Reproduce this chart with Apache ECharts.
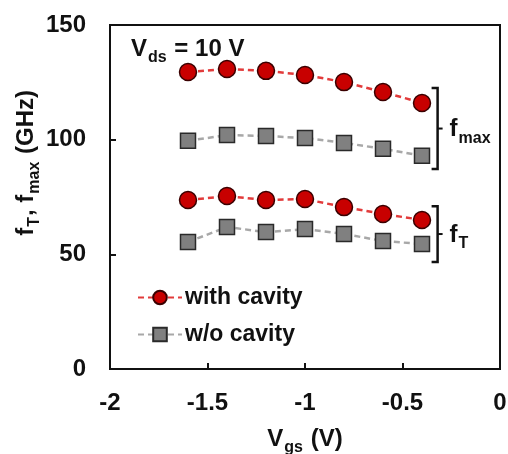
<!DOCTYPE html>
<html>
<head>
<meta charset="utf-8">
<script src="https://cdn.jsdelivr.net/npm/echarts@6/dist/echarts.min.js"></script>
<style>
  html, body { margin: 0; padding: 0; background: #fff; }
  #main { width: 508px; height: 454px; }
</style>
</head>
<body>
<div id="main"></div>
<script>
// gate voltage Vgs (V)
var vgs = [-1.6, -1.4, -1.2, -1.0, -0.8, -0.6, -0.4];
// fmax (GHz)
var fmaxCavity = [129.5, 130.8, 130, 128.2, 125.1, 120.8, 116];
var fmaxNoCavity = [99.5, 102, 101.6, 100.7, 98.6, 96, 93];
// fT (GHz)
var ftCavity = [73.7, 75.4, 73.7, 74.1, 70.6, 67.6, 65];
var ftNoCavity = [55.4, 61.9, 59.7, 61, 58.9, 55.8, 54.5];
// brackets on the right: [x, top, bottom, subscript]
var brackets = [
    [-0.32, 122.5, 87.2, 'max'],
    [-0.32, 71, 46.7, 'T']
];

function pairs(ys) {
    return vgs.map(function (x, i) { return [x, ys[i]]; });
}

var font = 'Liberation Sans, Arial, sans-serif';
var ink = '#111';

// rich styles for "main letter + subscript"
function richSub(size, subSize, drop, key) {
    var c = {};
    c[key] = ink;
    return {
        v: Object.assign({ fontSize: size, fontWeight: 'bold', fontFamily: font, lineHeight: size + 2, verticalAlign: 'bottom' }, c),
        s: Object.assign({ fontSize: subSize, fontWeight: 'bold', fontFamily: font, lineHeight: size + 2, verticalAlign: 'bottom', padding: [0, 1, -drop, 1] }, c)
    };
}

var redStyle = {
    symbol: 'circle',
    symbolSize: 17,
    itemStyle: { color: '#c80000', borderColor: '#3a0000', borderWidth: 1.5 },
    lineStyle: { color: '#e23b3b', width: 2.5, type: [6, 4] }
};
var grayStyle = {
    symbol: 'rect',
    symbolSize: 15,
    itemStyle: { color: '#808080', borderColor: '#2a2a2a', borderWidth: 1.5 },
    lineStyle: { color: '#a8a8a8', width: 2.5, type: [6, 4] }
};

function lineSeries(name, ys, st) {
    return {
        name: name,
        type: 'line',
        data: pairs(ys),
        symbol: st.symbol,
        symbolSize: st.symbolSize,
        itemStyle: st.itemStyle,
        lineStyle: st.lineStyle,
        z: 3
    };
}

var option = {
    animation: false,
    backgroundColor: '#fff',
    textStyle: { fontFamily: font },
    title: {
        left: 126,
        top: 30,
        text: '{v|V}{s|ds}{v| = 10 V}',
        textStyle: { rich: richSub(24, 16, 5, 'color') }
    },
    graphic: [{
        type: 'text',
        left: 14,
        top: 90,
        rotation: Math.PI / 2,
        style: {
            text: '{v|f}{s|T}{v|, f}{s|max}{v| (GHz)}',
            rich: richSub(24, 16, 5, 'fill')
        }
    }],
    grid: {
        left: 110, right: 8, top: 25, bottom: 85,
        outerBoundsMode: 'none',
        containLabel: false,
        show: true, borderColor: '#111', borderWidth: 2
    },
    legend: {
        orient: 'vertical',
        left: 132,
        top: 281,
        itemWidth: 44,
        itemHeight: 17,
        itemGap: 14,
        data: ['with cavity', 'w/o cavity'],
        textStyle: { fontSize: 23, fontWeight: 'bold', color: ink, fontFamily: font, padding: [0, 0, 0, -2] }
    },
    xAxis: {
        type: 'value',
        min: -2, max: 0, interval: 0.5,
        name: '{v|V}{s|gs}{v| (V)}',
        nameLocation: 'middle',
        nameGap: 56,
        nameTextStyle: { rich: richSub(24, 16, 5, 'color') },
        axisLine: { onZero: false, lineStyle: { color: '#111', width: 2 } },
        axisTick: { inside: true, length: 6, lineStyle: { color: '#111', width: 2 } },
        axisLabel: { fontSize: 24, fontWeight: 'bold', color: ink, margin: 22 },
        splitLine: { show: false }
    },
    yAxis: {
        type: 'value',
        min: 0, max: 150, interval: 50,
        axisLine: { onZero: false, lineStyle: { color: '#111', width: 2 } },
        axisTick: { inside: true, length: 6, lineStyle: { color: '#111', width: 2 } },
        axisLabel: { fontSize: 24, fontWeight: 'bold', color: ink, margin: 24 },
        splitLine: { show: false }
    },
    series: [
        lineSeries('with cavity', fmaxCavity, redStyle),
        lineSeries('w/o cavity', fmaxNoCavity, grayStyle),
        lineSeries('with cavity', ftCavity, redStyle),
        lineSeries('w/o cavity', ftNoCavity, grayStyle),
        {
            type: 'custom',
            silent: true,
            data: brackets,
            z: 4,
            renderItem: function (params, api) {
                var top = api.coord([api.value(0), api.value(1)]);
                var bot = api.coord([api.value(0), api.value(2)]);
                var x = top[0], midY = (top[1] + bot[1]) / 2;
                var sub = brackets[params.dataIndex][3];
                return {
                    type: 'group',
                    children: [
                        {
                            type: 'polyline',
                            shape: { points: [[x - 6, top[1]], [x, top[1]], [x, bot[1]], [x - 6, bot[1]]] },
                            style: { stroke: '#111', lineWidth: 2.5, fill: null }
                        },
                        {
                            type: 'line',
                            shape: { x1: x, y1: midY, x2: x + 5, y2: midY },
                            style: { stroke: '#111', lineWidth: 2 }
                        },
                        {
                            type: 'text',
                            x: x + 12,
                            y: midY,
                            style: {
                                text: '{v|f}{s|' + sub + '}',
                                verticalAlign: 'middle',
                                rich: richSub(24, 16, 5, 'fill')
                            }
                        }
                    ]
                };
            }
        }
    ]
};

var myChart = echarts.init(document.getElementById('main'));
myChart.setOption(option);
</script>
</body>
</html>
